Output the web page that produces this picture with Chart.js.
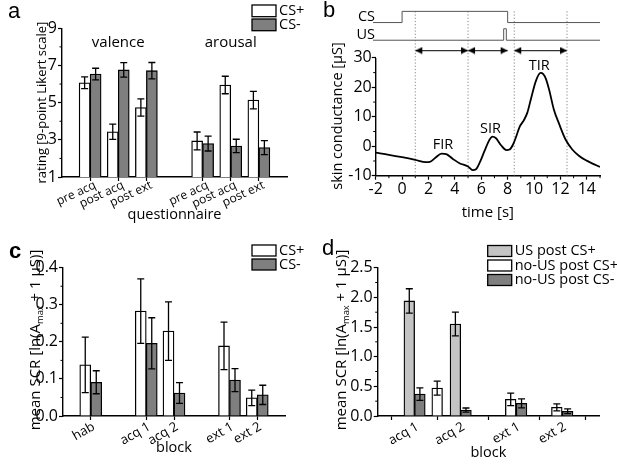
<!DOCTYPE html>
<html>
<head>
<meta charset="utf-8">
<script src="https://cdn.jsdelivr.net/npm/chart.js@4.4.1/dist/chart.umd.min.js"></script>
<style>
  html, body { margin: 0; padding: 0; background: #fff; }
  #fig { position: relative; width: 617px; height: 465px; overflow: hidden; }
  #fig canvas { position: absolute; }
</style>
</head>
<body>
<div id="fig">
  <canvas id="chart-a" width="308" height="232" style="left:0;top:0"></canvas>
  <canvas id="chart-b" width="309" height="232" style="left:308px;top:0"></canvas>
  <canvas id="chart-c" width="308" height="233" style="left:0;top:232px"></canvas>
  <canvas id="chart-d" width="309" height="233" style="left:308px;top:232px"></canvas>
</div>
<script>
// ---- panel a: questionnaire ratings (mean, s.e.m.)
const aQuestions = ['pre acq', 'post acq', 'post ext'];
const aGroups = ['valence', 'arousal'];
const aValenceCSp = [6.07, 3.43, 4.74];
const aValenceCSpErr = [0.32, 0.41, 0.46];
const aValenceCSm = [6.54, 6.76, 6.72];
const aValenceCSmErr = [0.31, 0.39, 0.44];
const aArousalCSp = [2.94, 5.95, 5.14];
const aArousalCSpErr = [0.48, 0.47, 0.47];
const aArousalCSm = [2.80, 2.67, 2.58];
const aArousalCSmErr = [0.40, 0.36, 0.38];
const aTicks = [1, 3, 5, 7, 9];

// ---- panel b: example skin conductance trace
const bTime = [-2, -1, 0, 1, 1.8, 2.1, 2.5, 3.0, 3.35, 3.85, 4.35, 5.0, 5.35, 5.6, 5.9, 6.25, 6.6, 6.85, 7.1, 7.5,
  7.9, 8.15, 8.4, 8.65, 8.9, 9.25, 9.5, 9.75, 10.15, 10.5, 10.7, 10.9, 11.15, 11.5, 11.9, 12.4, 12.9, 13.4, 13.9, 14.4, 15];
const bSCR = [-2.2, -2.9, -3.7, -4.6, -5.4, -5.3, -4.0, -2.5, -2.7, -4.3, -5.75, -6.9, -8.1, -7.8, -5.4, -1.6, 2.0, 3.3, 2.8, 0.35,
  -1.3, -1.1, 0.5, 3.3, 6.5, 9.0, 11.5, 15.8, 22.3, 24.9, 24.5, 22.9, 19.1, 12.5, 7.6, 2.2, -1.1, -3.2, -4.7, -5.8, -7.0];
const bTicksX = [-2, 0, 2, 4, 6, 8, 10, 12, 14];
const bTicksY = [-10, 0, 10, 20, 30];
const bCsTime = [-2.2, 0, 8, 15];
const bCsOn = [0, 1, 0, 0];
const bUsTime = [-2.2, 7.7, 7.9, 15];
const bUsOn = [0, 1, 0, 0];
const bWindowEdges = [1, 5, 8.5, 12.5];
const bWindows = [[1, 5], [5, 8], [8.5, 12.5]];
const bPeaks = ['FIR', 'SIR', 'TIR'];
const bPeakTime = [3.1, 6.7, 10.4];
const bPeakLabelY = [0.4, 6.0, 27.3];

// ---- panel c: mean SCR per block
const cBlocks = ['hab', 'acq 1', 'acq 2', 'ext 1', 'ext 2'];
const cPhaseSizes = [1, 2, 2];
const cCSp = [0.138, 0.283, 0.229, 0.189, 0.049];
const cCSpErr = [0.075, 0.087, 0.079, 0.064, 0.021];
const cCSm = [0.091, 0.196, 0.062, 0.097, 0.057];
const cCSmErr = [0.031, 0.069, 0.028, 0.031, 0.026];
const cTicks = [0, 0.1, 0.2, 0.3, 0.4];

// ---- panel d: SCR after US / no US
const dBlocks = ['acq 1', 'acq 2', 'ext 1', 'ext 2'];
const dBlockX = [1, 2, 3.2, 4.2];
const dUsCSpX = [0.885, 1.885];
const dUsCSp = [1.94, 1.55];
const dUsCSpErr = [0.205, 0.2];
const dNoUsCSpX = [1.49, 3.085, 4.085];
const dNoUsCSp = [0.47, 0.28, 0.146];
const dNoUsCSpErr = [0.118, 0.105, 0.058];
const dNoUsCSmX = [1.115, 2.115, 3.32, 4.32];
const dNoUsCSm = [0.37, 0.10, 0.213, 0.08];
const dNoUsCSmErr = [0.105, 0.035, 0.075, 0.04];
const dTicks = [0, 0.5, 1.0, 1.5, 2.0, 2.5];

const FONT = "'Open Sans', sans-serif";
const GRAY = '#7f7f7f';
const LIGHT = '#c4c4c4';
const TICK = 16;
Chart.defaults.font.family = FONT;
Chart.defaults.color = '#000';
Chart.defaults.animation = false;
Chart.defaults.events = [];
Chart.defaults.plugins.legend.display = false;
Chart.defaults.plugins.tooltip.enabled = false;

// blank slot before, between and after groups
function spaced(groups, blank) {
  const out = [blank];
  groups.forEach(g => out.push(...g, blank));
  return out;
}
function chunk(arr, sizes) {
  let k = 0;
  return sizes.map(n => { const part = arr.slice(k, k + n); k += n; return part; });
}
function pts(xs, ys) {
  return xs.map((x, i) => ({x: x, y: ys[i]}));
}

function categoryAxis(o) {
  return {
    type: 'category', offset: false,
    border: {color: '#000', width: 1.4},
    grid: {offset: false, drawOnChartArea: false, tickLength: 4, tickWidth: 1.2,
      tickColor: c => (c.tick && c.tick.label) ? '#000' : 'rgba(0,0,0,0)'},
    ticks: {autoSkip: false, maxRotation: o.rot, minRotation: o.rot, padding: o.pad, labelOffset: o.shift, font: {size: o.size}},
    title: {display: true, text: o.title, font: {size: 14.5}, padding: {top: 0, bottom: o.titlePad}},
    afterFit: s => { s.height = o.height; }
  };
}
function valueAxis(o) {
  return {
    type: 'linear', min: o.min, max: o.max, offset: false,
    border: {display: o.border !== false, color: '#000', width: 1.4},
    grid: {drawOnChartArea: false, tickLength: 4, tickWidth: 1.2, tickColor: '#000'},
    ticks: {font: {size: o.size || TICK}, padding: o.pad, callback: o.fmt, labelOffset: o.shift || 0,
      maxRotation: o.rot || 0, minRotation: o.rot || 0, autoSkip: false},
    afterBuildTicks: s => { s.ticks = o.ticks.map(v => ({value: v})); },
    afterFit: s => { if (o.width) s.width = o.width; if (o.height) s.height = o.height; },
    title: o.title || {display: false}
  };
}

function drawText(ctx, t) {
  ctx.save();
  ctx.translate(t.x, t.y);
  if (t.rotate) ctx.rotate(t.rotate * Math.PI / 180);
  const size = t.size || 14;
  const segs = t.segments || [{text: t.text}];
  const fontOf = s => `${t.bold ? 'bold ' : ''}${s.sub ? size * 0.62 : size}px ${t.family || FONT}`;
  const widths = segs.map(s => { ctx.font = fontOf(s); return ctx.measureText(s.text).width; });
  const total = widths.reduce((a, b) => a + b, 0);
  let cx = t.align === 'left' ? 0 : t.align === 'right' ? -total : -total / 2;
  ctx.textAlign = 'left';
  ctx.textBaseline = t.baseline || 'middle';
  ctx.fillStyle = '#000';
  segs.forEach((s, i) => {
    ctx.font = fontOf(s);
    ctx.fillText(s.text, cx, s.sub ? size * 0.32 : 0);
    cx += widths[i];
  });
  ctx.restore();
}

// extras drawn through the chart's own scales
function figure(cfg) {
  return {
    id: 'figure',
    afterDatasetsDraw(chart) {
      const ctx = chart.ctx;
      ctx.save();
      ctx.strokeStyle = '#000';
      ctx.lineWidth = 1.3;
      chart.data.datasets.forEach((ds, i) => {
        if (!ds.errors) return;
        const meta = chart.getDatasetMeta(i);
        const ys = chart.scales[meta.yAxisID];
        meta.data.forEach((bar, j) => {
          const d = ds.data[j];
          const v = d && typeof d === 'object' ? d.y : d;
          const e = ds.errors[j];
          if (v == null || e == null) return;
          const top = ys.getPixelForValue(v + e), bot = ys.getPixelForValue(v - e);
          ctx.beginPath();
          ctx.moveTo(bar.x, top); ctx.lineTo(bar.x, bot);
          ctx.moveTo(bar.x - 3.5, top); ctx.lineTo(bar.x + 3.5, top);
          ctx.moveTo(bar.x - 3.5, bot); ctx.lineTo(bar.x + 3.5, bot);
          ctx.stroke();
        });
      });
      ctx.restore();
    },
    afterDraw(chart) {
      const ctx = chart.ctx, area = chart.chartArea;
      ctx.save();
      ctx.strokeStyle = '#000';
      (cfg.axisLines || []).forEach(l => {
        const s = chart.scales[l.axis];
        ctx.lineWidth = 1.4;
        ctx.beginPath();
        ctx.moveTo(area.left, s.getPixelForValue(l.from));
        ctx.lineTo(area.left, s.getPixelForValue(l.to));
        ctx.stroke();
      });
      (cfg.minor || []).forEach(m => {
        const s = chart.scales[m.axis];
        ctx.lineWidth = 1;
        for (let k = 0; ; k++) {
          const v = m.from + k * m.step;
          if (v > m.to + 1e-9) break;
          if (s.ticks.some(t => Math.abs(t.value - v) < 1e-9)) continue;
          const p = s.getPixelForValue(v);
          ctx.beginPath();
          if (m.axis === 'x') { ctx.moveTo(p, area.bottom); ctx.lineTo(p, area.bottom + 2.5); }
          else { ctx.moveTo(area.left, p); ctx.lineTo(area.left - 2.5, p); }
          ctx.stroke();
        }
      });
      (cfg.legend || []).forEach(l => {
        ctx.fillStyle = l.fill;
        ctx.lineWidth = 1.3;
        ctx.fillRect(l.x, l.y, l.w, l.h);
        ctx.strokeRect(l.x, l.y, l.w, l.h);
        drawText(ctx, {text: l.label, x: l.x + l.w + 3, y: l.y + l.h / 2, align: 'left', size: 14.5});
      });
      (cfg.texts || []).forEach(t => {
        const p = Object.assign({}, t);
        if (t.data) {
          p.x = chart.scales.x.getPixelForValue(t.x);
          p.y = chart.scales.y.getPixelForValue(t.y);
        }
        drawText(ctx, p);
      });
      ctx.restore();
    }
  };
}

function letter(ch, x, y, bold) {
  return {text: ch, x: x, y: y, size: 22, align: 'left', baseline: 'alphabetic', family: "'Liberation Sans', sans-serif", bold: bold};
}
const scrTitle = [{text: 'mean SCR [ln(A'}, {text: 'max', sub: true}, {text: ' + 1 µS)]'}];

// ---------------- panel a
const aLabels = spaced([aQuestions, aQuestions], '');
new Chart(document.getElementById('chart-a'), {
  type: 'bar',
  data: {
    labels: aLabels,
    datasets: [
      {label: 'CS+', data: spaced([aValenceCSp, aArousalCSp], null), errors: spaced([aValenceCSpErr, aArousalCSpErr], null),
        backgroundColor: '#fff', borderColor: '#000', borderWidth: 1.3, barThickness: 11},
      {label: 'CS-', data: spaced([aValenceCSm, aArousalCSm], null), errors: spaced([aValenceCSmErr, aArousalCSmErr], null),
        backgroundColor: GRAY, borderColor: '#000', borderWidth: 1.3, barThickness: 11}
    ]
  },
  options: {
    responsive: false,
    layout: {padding: {left: 0, right: 21, top: 28.3, bottom: 0}},
    scales: {
      x: categoryAxis({title: 'questionnaire', rot: 25, pad: -3, shift: 5, titlePad: 8.6, height: 55, size: 12}),
      y: valueAxis({min: 1, max: 9, ticks: aTicks, width: 62, pad: 1, fmt: v => String(v),
        title: {display: true, text: 'rating [9-point Likert scale]', font: {size: 13}, padding: {top: 34.2, bottom: 0}}})
    }
  },
  plugins: [figure({
    minor: [{axis: 'y', from: 1, to: 9, step: 1}],
    legend: [
      {x: 252, y: 5, w: 24, h: 11.7, fill: '#fff', label: 'CS+'},
      {x: 252, y: 19, w: 24, h: 11.7, fill: GRAY, label: 'CS-'}
    ],
    texts: aGroups.map((g, i) => ({text: g, data: true, x: 2 + i * (aQuestions.length + 1), y: 8.2, size: 15}))
      .concat([letter('a', 8, 17.5)])
  })]
});

// ---------------- panel b
const lv = {top: 46.4, arrow: 32.5, csLow: 42, csHigh: 45.8, usLow: 36, usHigh: 39.9};
function arrowHead(dir) {
  const c = document.createElement('canvas');
  c.width = 16; c.height = 8;
  const g = c.getContext('2d');
  g.fillStyle = '#000';
  g.beginPath();
  g.moveTo(8, 4);
  g.lineTo(8 - dir * 7, 0.5);
  g.lineTo(8 - dir * 7, 7.5);
  g.closePath();
  g.fill();
  return c;
}
const headL = arrowHead(-1), headR = arrowHead(1);
const traceStyle = {borderColor: '#555', borderWidth: 1, pointRadius: 0, stepped: true, clip: false, fill: false};
new Chart(document.getElementById('chart-b'), {
  type: 'line',
  data: {
    datasets: [
      {data: pts(bTime, bSCR), borderColor: '#000', borderWidth: 1.8, pointRadius: 0, cubicInterpolationMode: 'monotone', fill: false},
      Object.assign({data: pts(bCsTime, bCsOn.map(s => s ? lv.csHigh : lv.csLow))}, traceStyle),
      Object.assign({data: pts(bUsTime, bUsOn.map(s => s ? lv.usHigh : lv.usLow))}, traceStyle)
    ].concat(bWindowEdges.map(t => ({
      data: [{x: t, y: -10}, {x: t, y: lv.top}], borderColor: '#888', borderWidth: 1, borderDash: [1.2, 2], pointRadius: 0
    }))).concat(bWindows.map(w => ({
      data: [{x: w[0], y: lv.arrow}, {x: w[1], y: lv.arrow}], borderColor: '#333', borderWidth: 1.2,
      pointStyle: [headL, headR], pointRadius: 4
    })))
  },
  options: {
    responsive: false,
    layout: {padding: {left: 0, right: 17, top: 3.3, bottom: 0}},
    scales: {
      x: valueAxis({min: -2, max: 15, ticks: bTicksX, height: 56.3, pad: 0, fmt: v => String(v),
        title: {display: true, text: 'time [s]', font: {size: 15}, padding: {top: 0, bottom: 10.6}}}),
      y: valueAxis({min: -10, max: lv.top, ticks: bTicksY, width: 67.7, pad: 0, border: false, fmt: v => String(v)})
    }
  },
  plugins: [figure({
    axisLines: [{axis: 'y', from: -10, to: 30}],
    minor: [{axis: 'x', from: -2, to: 15, step: 1}, {axis: 'y', from: -10, to: 30, step: 5}],
    texts: bPeaks.map((p, i) => ({text: p, data: true, x: bPeakTime[i], y: bPeakLabelY[i], size: 14.5}))
      .concat([
        {text: 'CS', data: true, x: -2.05, y: (lv.csLow + lv.csHigh) / 2, align: 'right', size: 14.5},
        {text: 'US', data: true, x: -2.05, y: (lv.usLow + lv.usHigh) / 2, align: 'right', size: 14.5},
        {text: 'skin conductance [µS]', x: 30, y: 116, rotate: -90, size: 14.5},
        letter('b', 15, 17)
      ])
  })]
});

// ---------------- panel c
new Chart(document.getElementById('chart-c'), {
  type: 'bar',
  data: {
    labels: spaced(chunk(cBlocks, cPhaseSizes), ''),
    datasets: [
      {label: 'CS+', data: spaced(chunk(cCSp, cPhaseSizes), null), errors: spaced(chunk(cCSpErr, cPhaseSizes), null),
        backgroundColor: '#fff', borderColor: '#000', borderWidth: 1.3, barThickness: 11},
      {label: 'CS-', data: spaced(chunk(cCSm, cPhaseSizes), null), errors: spaced(chunk(cCSmErr, cPhaseSizes), null),
        backgroundColor: GRAY, borderColor: '#000', borderWidth: 1.3, barThickness: 11}
    ]
  },
  options: {
    responsive: false,
    layout: {padding: {left: 0, right: 23, top: 35.7, bottom: 0}},
    scales: {
      x: categoryAxis({title: 'block', rot: 30, pad: -1, shift: 3, titlePad: 8.6, height: 49, size: 13}),
      y: valueAxis({min: 0, max: 0.4, ticks: cTicks, width: 63, pad: 1, fmt: v => v.toFixed(1)})
    }
  },
  plugins: [figure({
    minor: [{axis: 'y', from: 0, to: 0.4, step: 0.05}],
    legend: [
      {x: 252, y: 13, w: 24, h: 11, fill: '#fff', label: 'CS+'},
      {x: 252, y: 27, w: 24, h: 11, fill: GRAY, label: 'CS-'}
    ],
    texts: [
      {segments: scrTitle, x: 35.5, y: 108, rotate: -90, size: 15},
      letter('c', 9, 26, true)
    ]
  })]
});

// ---------------- panel d
const dBar = {borderColor: '#000', borderWidth: 1.3, barThickness: 10.7, grouped: false};
new Chart(document.getElementById('chart-d'), {
  type: 'bar',
  data: {
    datasets: [
      Object.assign({label: 'US post CS+', data: pts(dUsCSpX, dUsCSp), errors: dUsCSpErr, backgroundColor: LIGHT}, dBar),
      Object.assign({label: 'no-US post CS+', data: pts(dNoUsCSpX, dNoUsCSp), errors: dNoUsCSpErr, backgroundColor: '#fff'}, dBar),
      Object.assign({label: 'no-US post CS-', data: pts(dNoUsCSmX, dNoUsCSm), errors: dNoUsCSmErr, backgroundColor: GRAY}, dBar)
    ]
  },
  options: {
    responsive: false,
    layout: {padding: {left: 0, right: 18, top: 35.7, bottom: 0}},
    scales: {
      x: valueAxis({min: 0.2, max: 5.0, ticks: dBlockX, height: 49, pad: -1, shift: 3, size: 13, rot: 30,
        fmt: (v, i) => dBlocks[i],
        title: {display: true, text: 'block', font: {size: 14.5}, padding: {top: 0, bottom: 3.6}}}),
      y: valueAxis({min: 0, max: 2.5, ticks: dTicks, width: 69.7, pad: 1, fmt: v => v.toFixed(1)})
    }
  },
  plugins: [figure({
    minor: [{axis: 'y', from: 0, to: 2.5, step: 0.25}],
    legend: [
      {x: 179.7, y: 13.5, w: 24, h: 11, fill: LIGHT, label: 'US post CS+'},
      {x: 179.7, y: 28, w: 24, h: 11, fill: '#fff', label: 'no-US post CS+'},
      {x: 179.7, y: 42.5, w: 24, h: 11, fill: GRAY, label: 'no-US post CS-'}
    ],
    texts: [
      {segments: scrTitle, x: 33.5, y: 108, rotate: -90, size: 15},
      letter('d', 14, 23)
    ]
  })]
});
</script>
</body>
</html>
